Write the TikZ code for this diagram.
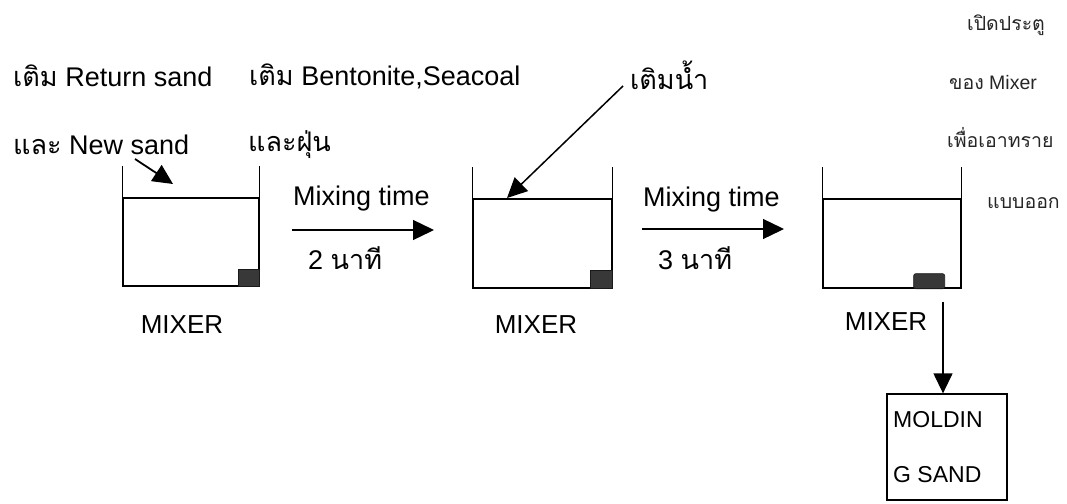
\documentclass[tikz,border=0pt]{standalone}
\usepackage{fontspec}
\setmainfont{Liberation Sans}
\newfontfamily\thai[Script=Thai]{Loma}
\usetikzlibrary{arrows.meta}
\begin{document}
\begin{tikzpicture}[x=1pt,y=-1pt,
  lbl/.style={inner sep=0pt, anchor=west, font=\fontsize{27}{30}\selectfont},
  sml/.style={inner sep=0pt, anchor=west, text=black!85, font=\fontsize{19.5}{22}\selectfont},
  mxlbl/.style={inner sep=0pt, font=\fontsize{26}{30}\selectfont},
  tank/.style={draw, line width=1.4pt, inner sep=0pt},
  wall/.style={line width=1.4pt},
  bigarrow/.style={-{Triangle[length=20pt,width=19pt]}, line width=1.5pt},
  knob/.style={fill=black!78, draw=black!90, line width=0.6pt}
]
\useasboundingbox (0,0) rectangle (1067,503);

% top texts
\node[lbl] (t1) at (13,76) {{\thai เติม} Return sand};
\node[lbl] (t2) at (249,76) {{\thai เติม} Bentonite,Seacoal};
\node[lbl] (t3) at (630,75) {\thai เติมน้ำ};
\node[lbl] (t4) at (13,145) {{\thai และ} New sand};
\node[lbl] (t5) at (248,145) {\thai และฝุ่น};

% right texts
\node[sml] (r1) at (967,25) {\thai เปิดประตู};
\node[sml] (r2) at (949,83) {{\thai ของ} Mixer};
\node[sml] (r3) at (947,138) {\thai เพื่อเอาทราย};
\node[sml] (r4) at (987,203) {\thai แบบออก};

% mixers
\node[tank, minimum width=136pt, minimum height=88pt] (mx1) at (191,242) {};
\node[tank, minimum width=139pt, minimum height=89pt] (mx2) at (542.5,243.5) {};
\node[tank, minimum width=138pt, minimum height=89pt] (mx3) at (892,243.5) {};
\draw[wall] (mx1.north west) -- ++(0,-31);
\draw[wall] (mx1.north east) -- ++(0,-31);
\draw[wall] (mx2.north west) -- ++(0,-31);
\draw[wall] (mx2.north east) -- ++(0,-31);
\draw[wall] (mx3.north west) -- ++(0,-31);
\draw[wall] (mx3.north east) -- ++(0,-31);
\draw[knob] (mx1.south east) rectangle ++(-21,-17);
\draw[knob] (mx2.south east) rectangle ++(-22,-18);
\draw[knob, rounded corners=2pt] ([xshift=-17pt]mx3.south east) rectangle ++(-31,-15);

% mixer labels
\node[mxlbl] (l1) at (182,325) {MIXER};
\node[mxlbl] (l2) at (536,325) {MIXER};
\node[mxlbl] (l3) at (886,322) {MIXER};

% mixing time arrows
\node[lbl] (m1) at (293,199) {Mixing time};
\node[lbl] (n1) at (308,258) {2 {\thai นาที}};
\coordinate (a1s) at (292,230);
\coordinate (a1e) at (434,230);
\draw[-{Triangle[length=21pt,width=20pt]}, line width=1.3pt] (a1s) -- (a1e);

\node[lbl] (m2) at (643,200) {Mixing time};
\node[lbl] (n2) at (658,258) {3 {\thai นาที}};
\coordinate (a2s) at (642,229);
\coordinate (a2e) at (784,229);
\draw[-{Triangle[length=21pt,width=20pt]}, line width=1.3pt] (a2s) -- (a2e);

% input arrows
\coordinate (ns0) at (135,159);
\coordinate (ns1) at (173,184);
\draw[bigarrow, line width=1.8pt] (ns0) -- (ns1);
\coordinate (w0) at (623,86);
\coordinate (w1) at (507,198);
\draw[bigarrow] (w0) -- (w1);

% molding sand
\node[draw, line width=1.3pt, minimum width=120pt, minimum height=106pt, inner sep=0pt] (mold) at (947,447) {};
\node[inner sep=0pt, anchor=west, font=\fontsize{23}{26}\selectfont] (mo1) at (893,420) {MOLDIN};
\node[inner sep=0pt, anchor=west, font=\fontsize{23}{26}\selectfont] (mo2) at (893,475) {G SAND};
\coordinate (d0) at (943,302);
\draw[bigarrow, line width=1.3pt] (d0) -- (d0 |- mold.north);
\end{tikzpicture}
\end{document}
